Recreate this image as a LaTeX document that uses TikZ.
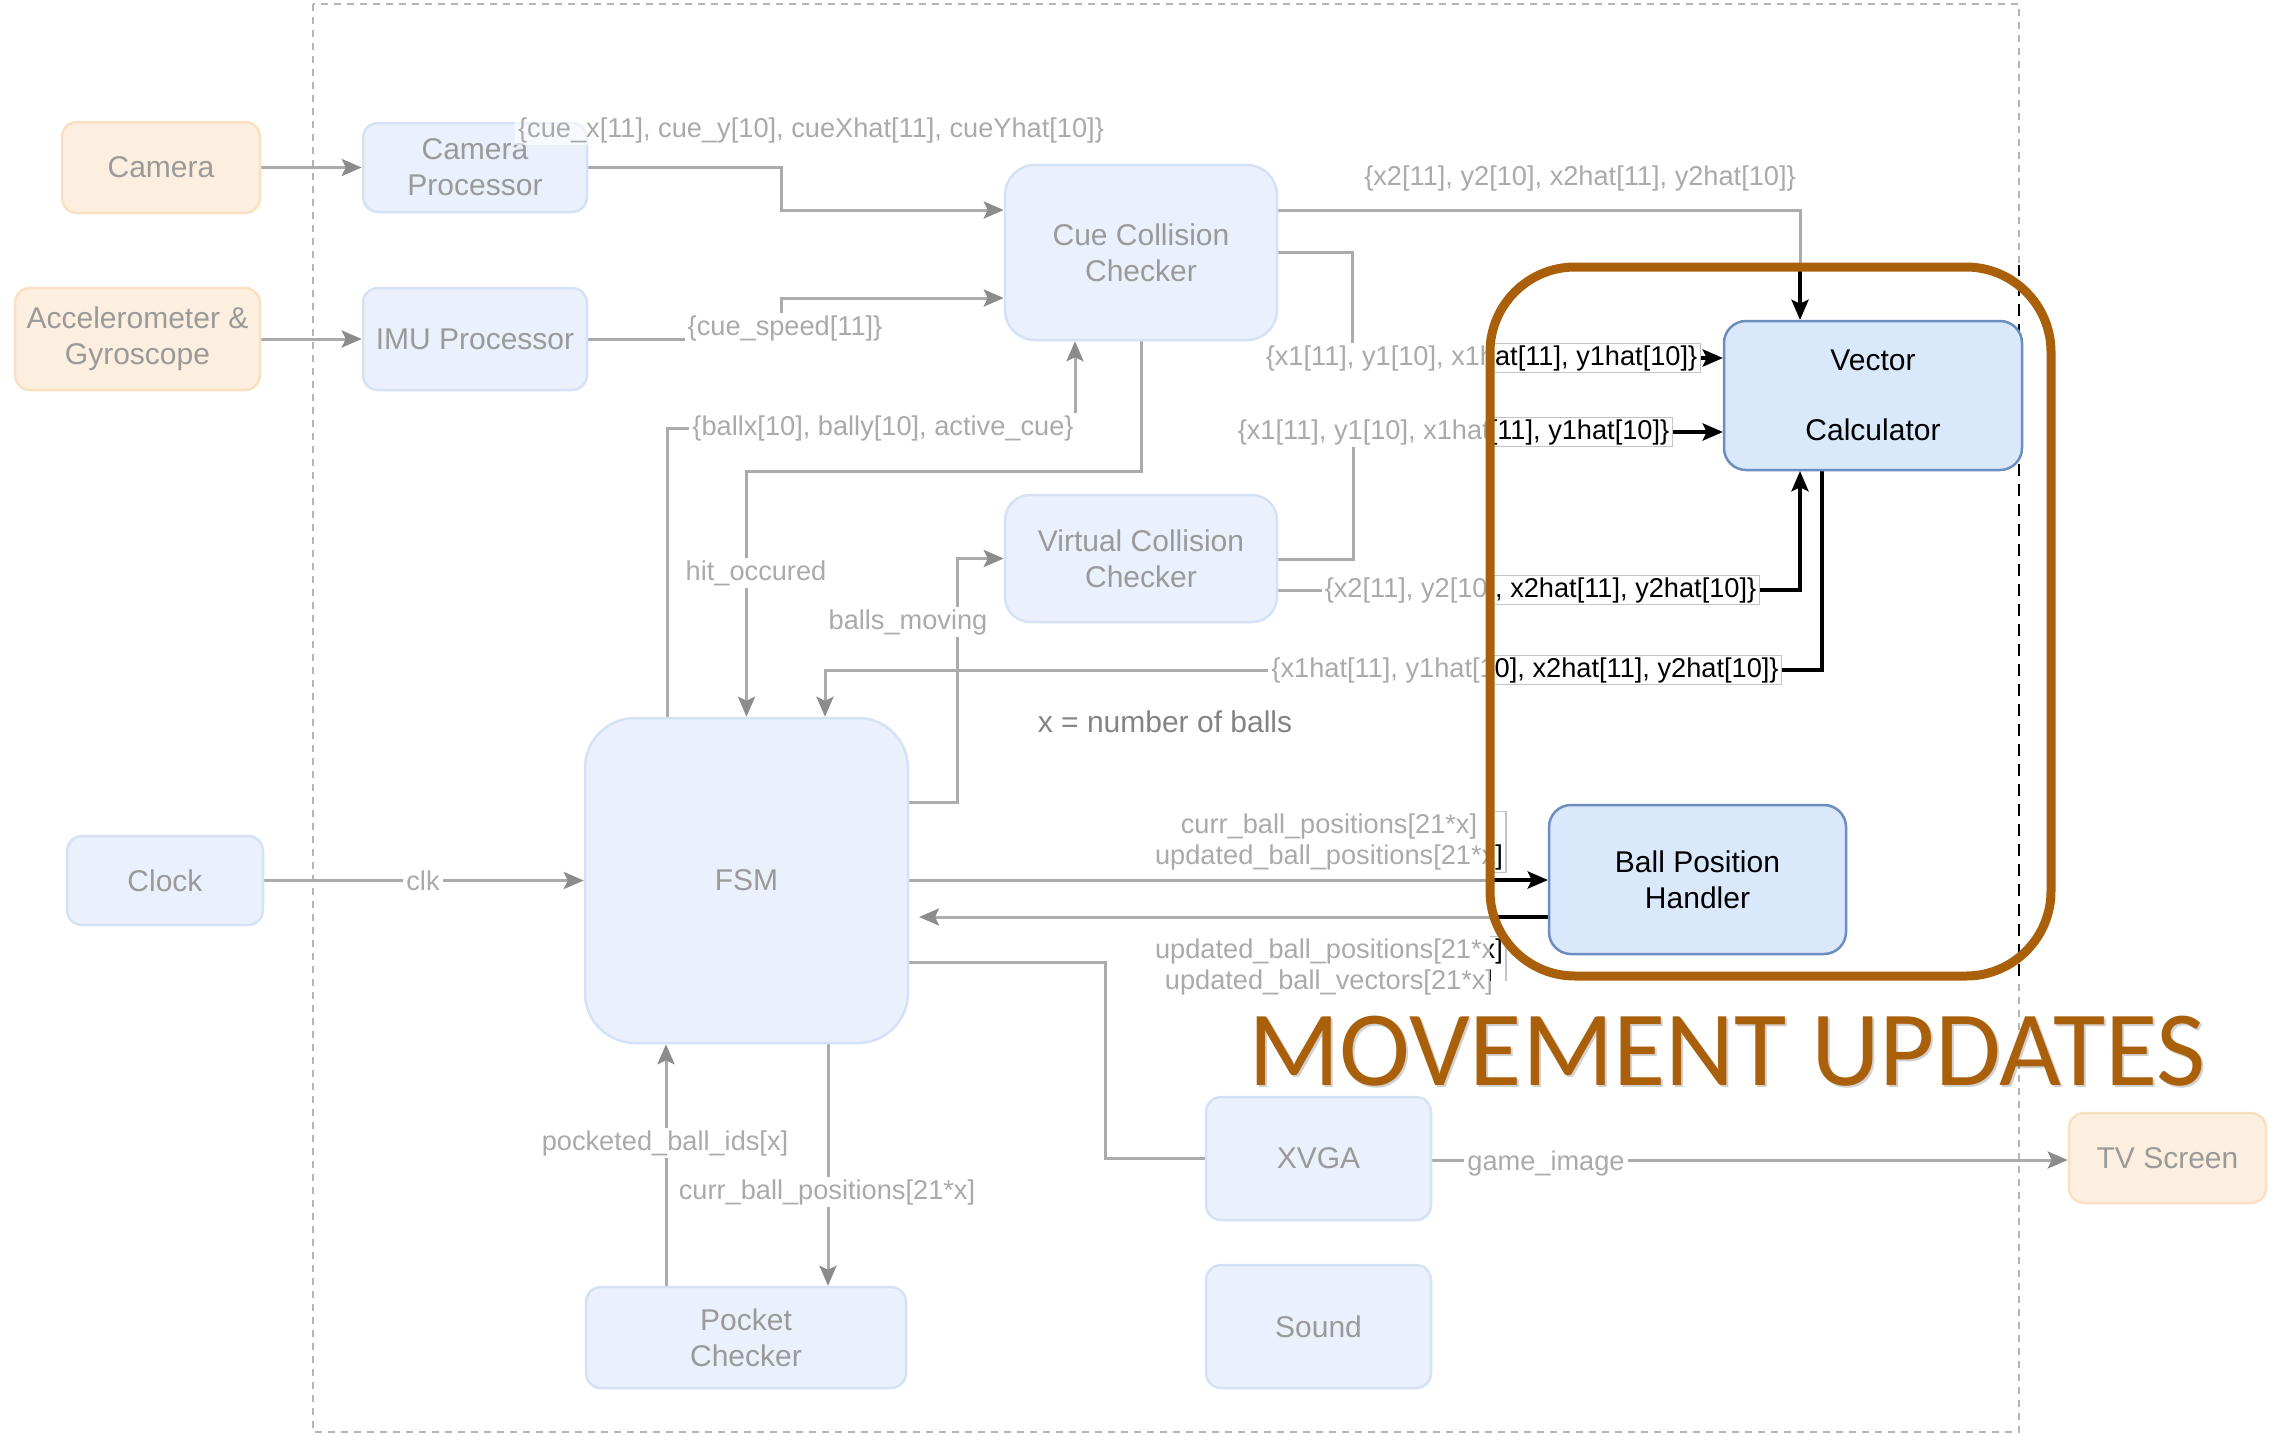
\documentclass[tikz,border=0pt]{standalone}
\usepackage{fontspec}
\setmainfont{Liberation Sans}
\newfontfamily\titlefont{Carlito}
\usetikzlibrary{arrows.meta}

\definecolor{fFill}{HTML}{EAF1FC}
\definecolor{fDraw}{HTML}{D5E2F5}
\definecolor{oFill}{HTML}{FDEFDF}
\definecolor{oDraw}{HTML}{FAE0C3}
\definecolor{fText}{HTML}{9A9A9A}
\definecolor{fLabel}{HTML}{AAAAAA}
\definecolor{fLine}{HTML}{ABABAB}
\definecolor{fArrow}{HTML}{8C8C8C}
\definecolor{fDash}{HTML}{B5B5B5}
\definecolor{cFill}{HTML}{DAE8FC}
\definecolor{cDraw}{HTML}{6C8EBF}
\definecolor{cBorder}{HTML}{C4C4C4}
\definecolor{hl}{RGB}{170,96,10}

\pgfdeclarelayer{bg}
\pgfsetlayers{bg,main}

\newcommand\nodefont{\fontsize{30}{36}\selectfont}
\newcommand\lblfont{\fontsize{27.2}{31}\selectfont}

\tikzset{
  fbox/.style={rounded corners=15pt, fill=fFill, draw=fDraw, line width=2.5pt, text=fText, font=\nodefont, align=center, inner sep=0pt},
  obox/.style={fbox, fill=oFill, draw=oDraw},
  cbox/.style={rounded corners=22pt, fill=cFill, draw=cDraw, line width=2.5pt, text=black, font=\nodefont, align=center, inner sep=0pt},
  fline/.style={draw=fLine, line width=3pt},
  farr/.style={fline, -{Stealth[length=20pt,width=17pt,inset=4pt,color=fArrow]}},
  cline/.style={draw=black, line width=3.2pt},
  carr/.style={cline, -{Stealth[length=20pt,width=17pt,inset=4pt,color=black]}},
  flbl/.style={font=\lblfont, text=fLabel, fill=white, inner xsep=3pt, inner ysep=2pt, align=center},
  clbl/.style={flbl, text=black, draw=cBorder, line width=1.2pt},
}

% connectors and labels that cross into the highlighted region
\newcommand\crossparts[1]{%
  \draw[xarr] (ccc.east |- 0,210) -- (1800,210) -- (1800,0 |- vc.north);
  \draw[xarr] (ccc.east |- 0,252) -- (1352,252) -- (1352,358) -- (vc.west |- 0,358);
  \node[xlbl] (la#1) at (1481.5,358) {\{x1[11], y1[10], x1hat[11], y1hat[10]\}};
  \draw[xarr] (vcc.east |- 0,559) -- (1353,559) -- (1353,432) -- (vc.west |- 0,432);
  \node[xlbl] (lb#1) at (1453.5,432) {\{x1[11], y1[10], x1hat[11], y1hat[10]\}};
  \draw[xarr] (vcc.east |- 0,590) -- (1800,590) -- (1800,0 |- vc.south);
  \node[xlbl] (lc#1) at (1540.5,590) {\{x2[11], y2[10], x2hat[11], y2hat[10]\}};
  \draw[xarr] (1822,0 |- vc.south) -- (1822,670) -- (825,670) -- (825,0 |- fsm.north);
  \node[xlbl] (ld#1) at (1525,670) {\{x1hat[11], y1hat[10], x2hat[11], y2hat[10]\}};
  \draw[xarr] (fsm.east |- 0,880) -- (bph.west |- 0,880);
  \node[xlbl] (le#1) at (1329,842) {curr\_ball\_positions[21*x]\\updated\_ball\_positions[21*x]};
  \draw[xarr] (bph.west |- 0,917) -- (919,917);
  \node[xlbl] (lf#1) at (1329,967) {updated\_ball\_positions[21*x]\\updated\_ball\_vectors[21*x]};
}

\begin{document}
\begin{tikzpicture}[x=1pt,y=-1pt]
\useasboundingbox (0,0) rectangle (2289,1435);

% faded nodes
\node[obox, minimum width=198pt, minimum height=91pt] (camera) at (161,167.5) {Camera};
\node[obox, minimum width=245pt, minimum height=102pt] (accel) at (137.5,339) {Accelerometer \&\\Gyroscope};
\node[fbox, minimum width=224pt, minimum height=89pt] (camproc) at (475,167.5) {Camera\\Processor};
\node[fbox, minimum width=224pt, minimum height=102pt] (imu) at (475,339) {IMU Processor};
\node[fbox, rounded corners=30pt, minimum width=272pt, minimum height=175pt] (ccc) at (1141,252.5) {Cue Collision\\Checker};
\node[fbox, rounded corners=25pt, minimum width=272pt, minimum height=127pt] (vcc) at (1141,558.5) {Virtual Collision\\Checker};
\node[fbox, rounded corners=50pt, minimum width=323pt, minimum height=325pt] (fsm) at (746.5,880.5) {FSM};
\node[fbox, minimum width=196pt, minimum height=89pt] (clock) at (165,880.5) {Clock};
\node[fbox, minimum width=320pt, minimum height=101pt] (pocket) at (746,1337.5) {Pocket\\Checker};
\node[fbox, minimum width=225pt, minimum height=123pt] (xvga) at (1318.5,1158.5) {XVGA};
\node[fbox, minimum width=225pt, minimum height=123pt] (sound) at (1318.5,1326.5) {Sound};
\node[obox, minimum width=197pt, minimum height=90pt] (tv) at (2167.5,1158) {TV Screen};
\node[font=\nodefont, text=fText!85!black, inner sep=0pt] (xnote) at (1165,722) {x = number of balls};

% clear nodes
\node[cbox, minimum width=298pt, minimum height=149pt] (vc) at (1873,395.5) {Vector\\[34pt]Calculator};
\node[cbox, minimum width=297pt, minimum height=149pt] (bph) at (1697.5,879.5) {Ball Position\\Handler};

\node[flbl, fill opacity=0.6, text opacity=1] (lcue) at (811,130) {\{cue\_x[11], cue\_y[10], cueXhat[11], cueYhat[10]\}};

\begin{pgfonlayer}{bg}
  \draw[fDash, line width=2.5pt, dash pattern=on 7pt off 6pt] (313,4) rectangle (2019,1432);
  \draw[farr] (camera.east) -- (camproc.west);
  \draw[farr] (accel.east) -- (imu.west);
  \draw[farr] (camproc.east) -- (781,167.5) -- (781,210) -- (ccc.west |- 0,210);
  \draw[farr] (imu.east) -- (781,339) -- (781,298) -- (ccc.west |- 0,298);
  \node[flbl] (lspeed) at (785,328) {\{cue\_speed[11]\}};
  \draw[farr] (667,0 |- fsm.north) -- (667,428) -- (1075,428) -- (1075,0 |- ccc.south);
  \node[flbl] (lball) at (883,428) {\{ballx[10], bally[10], active\_cue\}};
  \draw[farr] (ccc.south) -- (1141,471) -- (746.5,471) -- (fsm.north);
  \node[flbl] (lhit) at (756,573) {hit\_occured};
  \draw[farr] (fsm.east |- 0,802) -- (957,802) -- (957,558.5) -- (vcc.west);
  \node[flbl] (lmov) at (908,622) {balls\_moving};
  \draw[farr] (clock.east) -- (fsm.west);
  \node[flbl] (lclk) at (423,880.5) {clk};
  \draw[farr] (828,0 |- fsm.south) -- (828,0 |- pocket.north);
  \node[flbl] (lcurr) at (827,1192) {curr\_ball\_positions[21*x]};
  \draw[farr] (666,0 |- pocket.north) -- (666,0 |- fsm.south);
  \node[flbl] (lpock) at (665,1143) {pocketed\_ball\_ids[x]};
  \draw[fline] (fsm.east |- 0,962) -- (1105,962) -- (1105,1158.5) -- (xvga.west);
  \draw[farr] (xvga.east |- 0,1160) -- (tv.west |- 0,1160);
  \node[flbl] (lgame) at (1546,1163) {game\_image};
  \node[font=\lblfont, text=fLabel, inner sep=0pt] (ltop) at (1580,178) {\{x2[11], y2[10], x2hat[11], y2hat[10]\}};
  \begin{scope}[xarr/.style={farr}, xlbl/.style={flbl}]
    \crossparts{f}
  \end{scope}
  % highlighted region in full colour
  \begin{scope}
    \clip (1490,265) rectangle (2060,980);
    \draw[white, line width=6pt] (2019,4) -- (2019,1432);
    \draw[black, line width=2.5pt, dash pattern=on 12pt off 8pt] (2019,4) -- (2019,1432);
    \begin{scope}[xarr/.style={carr}, xlbl/.style={clbl}]
      \crossparts{c}
    \end{scope}
  \end{scope}
\end{pgfonlayer}

% highlight frame and title
\node[draw=hl, line width=9pt, rounded corners=85pt, minimum width=561pt, minimum height=709pt, inner sep=0pt] (focus) at (1770.5,621.5) {};
\node[anchor=base west, inner sep=0pt, text=black, opacity=0.18, font=\titlefont\fontsize{107}{112}\selectfont] (titleshadow) at (1250,1087) {MOVEMENT UPDATES};
\node[anchor=base west, inner sep=0pt, text=hl, font=\titlefont\fontsize{107}{112}\selectfont] (title) at (1248,1085) {MOVEMENT UPDATES};
\end{tikzpicture}
\end{document}
